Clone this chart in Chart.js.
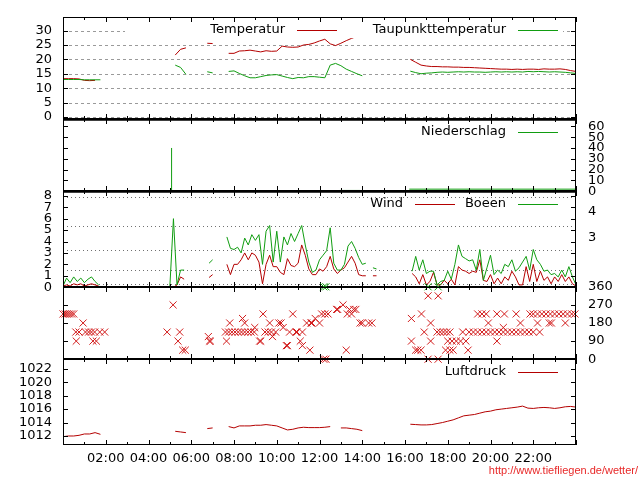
<!DOCTYPE html>
<html>
<head>
<meta charset="utf-8">
<script src="https://cdn.jsdelivr.net/npm/chart.js@4.4.1/dist/chart.umd.min.js"></script>
<style>
  body { margin: 0; background: #fff; }
  #wrap { position: relative; width: 640px; height: 480px; overflow: hidden; }
  canvas { position: absolute; left: 0; }
  #url { position: absolute; right: 2px; top: 464px; font: 11px "Liberation Sans", Arial, sans-serif; color: #e82828; }
</style>
</head>
<body>
<div id="wrap">
  <canvas id="cTemp" width="640" height="126" style="top:5px"></canvas>
  <canvas id="cRain" width="640" height="96" style="top:107px"></canvas>
  <canvas id="cWind" width="640" height="120" style="top:179px"></canvas>
  <canvas id="cDir" width="640" height="96" style="top:275px"></canvas>
  <canvas id="cPress" width="640" height="133" style="top:347px"></canvas>
  <div id="url">http://www.tiefliegen.de/wetter/</div>
</div>
<script>
// 15 minute values, 00:00 .. 24:00
const tempValues = [
  13.3, 13.3, 13.3, 13.2,   12.7, 12.6, 12.7, null,
  null, null, null, null,   null, null, null, null,   null, null, null, null,
  null, 21.5, 23.5, 24.0,   null, null, null, 25.6,   25.5, null, null, 22.1,
  22.1, 22.9, 23.0, 23.2,   22.9, 22.6, 23.0, 22.8,   22.9, 24.6, 24.3, 24.2,
  24.3, 25.0, 25.2, 25.7,   26.4, 27.0, 25.4, 24.8,   25.6, 26.5, 27.3, 28.0,
  28.5, null, null, null,   null, null, null, null,   null, 20.0, 19.0, 18.0,
  17.7, 17.5, 17.5, 17.4,   17.4, 17.3, 17.3, 17.2,   17.2, 17.1, 17.0, 16.9,
  16.8, 16.7, 16.6, 16.6,   16.5, 16.6, 16.5, 16.6,   16.6, 16.5, 16.7, 16.6,
  16.6, 16.7, 16.5, 16.1,   15.8
];
const dewValues = [
  13.0, 13.0, 13.0, 13.0,   12.9, 12.9, 12.9, 12.9,
  null, null, null, null,   null, null, null, null,   null, null, null, null,
  null, 18.0, 17.2, 14.8,   null, null, null, 15.7,   15.3, null, null, 15.8,
  16.0, 15.1, 14.3, 13.6,   13.6, 14.0, 14.4, 14.6,   14.7, 14.2, 13.7, 13.3,
  13.7, 13.6, 14.0, 14.0,   13.8, 13.6, 18.0, 18.6,   17.8, 16.6, 15.8, 15.0,
  14.3, null, null, null,   null, null, null, null,   null, 15.9, 15.4, 15.0,
  15.2, 15.3, 15.5, 15.6,   15.5, 15.6, 15.7, 15.6,   15.7, 15.6, 15.6, 15.5,
  15.6, 15.7, 15.6, 15.7,   15.6, 15.7, 15.6, 15.8,   15.7, 15.8, 15.7, 15.6,
  15.7, 15.6, 15.5, 15.3,   15.1
];
const pressureValues = [
  1011.9, 1012.0, 1012.0, 1012.1,   1012.3, 1012.3, 1012.5, 1012.25,
  null, null, null, null,   null, null, null, null,   null, null, null, null,
  null, 1012.7, 1012.6, 1012.5,   null, null, null, 1013.1,   1013.2, null, null, 1013.4,
  1013.2, 1013.5, 1013.5, 1013.5,   1013.6, 1013.6, 1013.7, 1013.6,   1013.5, 1013.2, 1012.9, 1013.0,
  1013.2, 1013.3, 1013.25, 1013.25,   1013.25, 1013.3, 1013.4, null,   1013.2, 1013.2, 1013.1, 1013.0,
  1012.8, null, null, null,   null, null, null, null,   null, 1013.75, 1013.7, 1013.65,
  1013.65, 1013.7, 1013.85, 1014.0,   1014.2, 1014.4, 1014.7, 1015.0,   1015.1, 1015.2, 1015.4, 1015.6,
  1015.7, 1015.9, 1016.0, 1016.1,   1016.2, 1016.3, 1016.45, 1016.15,   1016.1, 1016.2, 1016.25, 1016.2,
  1016.1, 1016.2, 1016.35, 1016.4,   1016.3
];

// 10 minute values, 00:00 .. 24:00
const windValues = [
  0.1, 0.2, 0.1, 0.3, 0.2, 0.3,   0.1, 0.2, 0.3, 0.2, 0.1, null,
  null, null, null, null, null, null,   null, null, null, null, null, null,   null, null, null, null, null, null,
  0.0, 0.0, 0.2, 0.9, 0.7, null,   null, null, null, null, null, 0.85,
  1.1, null, null, null, 2.0, 1.1,   2.0, 2.0, 2.4, 3.0, 2.4, 3.0,
  2.8, 2.2, 0.3, 2.0, 2.8, 1.8,   1.8, 1.3, 1.1, 2.5, 1.9, 1.8,
  2.1, 3.7, 2.8, 1.6, 1.1, 1.1,   1.6, 1.4, 1.8, 2.7, 1.6, 1.2,
  1.5, 1.7, 2.2, 2.7, 2.1, 1.1,   1.0, 1.0, null, 1.0, 1.0, null,
  null, null, null, null, null, null,   null, null, 1.2, 0.9, 0.3, 1.1,
  0.2, 0.5, 1.3, 0.2, 0.2, 0.6,   0.3, 0.7, 0.2, 1.8, 1.5, 1.4,
  1.2, 1.4, 1.3, 2.4, 0.6, 0.5,   1.1, 0.3, 0.8, 0.3, 0.9, 0.6,
  1.4, 0.9, 0.2, 0.2, 1.8, 0.5,   2.0, 0.5, 1.4, 0.6, 0.9, 0.3,
  0.9, 0.5, 1.1, 0.5, 0.9, 0.3,   0.1
];
const gustValues = [
  0.1, 0.8, 0.4, 0.9, 0.5, 0.8,   0.4, 0.7, 0.9, 0.5, 0.2, null,
  null, null, null, null, null, null,   null, null, null, null, null, null,   null, null, null, null, null, null,
  0.1, 6.0, 0.2, 1.5, 1.5, null,   null, null, null, null, null, 2.1,
  2.4, null, null, null, 4.4, 3.4,   3.3, 3.5, 3.0, 4.3, 3.7, 4.6,
  4.1, 4.6, 2.0, 4.9, 5.4, 2.2,   4.9, 2.2, 4.4, 3.7, 4.7, 4.0,
  4.7, 5.4, 3.7, 2.2, 1.3, 1.5,   2.4, 2.8, 3.2, 5.2, 2.1, 1.5,
  1.5, 2.0, 3.6, 4.0, 3.4, 2.6,   2.0, 2.1, null, 1.7, 1.6, null,
  null, null, null, null, null, null,   null, null, 1.4, 2.7, 1.5, 2.4,
  1.2, 1.4, 1.4, 0.2, 0.5, 0.6,   1.4, 0.7, 2.0, 3.7, 2.7, 2.5,
  2.3, 2.4, 1.5, 3.3, 0.6, 1.7,   2.8, 1.1, 1.5, 1.2, 2.0, 1.8,
  2.4, 1.4, 1.7, 2.2, 2.7, 1.5,   3.3, 2.4, 2.0, 1.4, 1.5, 1.1,
  1.2, 0.9, 1.5, 0.9, 1.8, 0.9,   0.2
];

const precipHours  = [5.08, 5.08, 5.1, 12.95, 13.9, 14.0, 16.2, 24.0];
const precipValues = [0, 40, null, 0.7, 0.7, null, 1.9, 1.9];

const dirHours = [
  0.0, 0.1, 0.2, 0.3, 0.4, 0.5, 0.6, 0.62, 0.75, 0.94, 1.05, 1.2, 1.33, 1.4, 1.48, 1.56, 1.72, 1.95,
  4.87, 5.15, 5.38, 5.46, 5.6, 5.72,
  6.8, 6.85, 6.9,
  7.6, 7.65, 7.75, 7.8, 7.9, 8.05, 8.2, 8.35, 8.4, 8.5, 8.5, 8.65, 8.8, 8.95, 8.97, 9.2, 9.25, 9.36,
  9.45, 9.6, 9.67, 9.75, 9.8, 9.95, 10.1, 10.2, 10.3, 10.45, 10.5, 10.6, 10.75, 10.9, 10.95, 11.1,
  11.2, 11.2, 11.4, 11.55, 11.6, 11.65, 11.8, 12.0, 12.1, 12.2, 12.25, 12.3, 12.4,
  12.8, 12.85, 13.1, 13.25, 13.3, 13.4, 13.5, 13.6, 13.7, 13.9, 14.0, 14.3, 14.45,
  16.3, 16.3, 16.5, 16.6, 16.75, 16.77, 16.9, 17.08, 17.08, 17.2, 17.2, 17.5, 17.55, 17.55,
  17.65, 17.8, 17.9, 17.95, 18.0, 18.1, 18.1, 18.2, 18.25, 18.4, 18.6, 18.7, 18.85, 18.95,
  19.0, 19.2, 19.4, 19.4, 19.6, 19.6, 19.8, 19.8, 19.9, 20.0, 20.2, 20.3, 20.3, 20.4, 20.6,
  20.6, 20.65, 20.8, 21.0, 21.2, 21.2, 21.4, 21.4, 21.6, 21.8, 21.85, 22.0, 22.0, 22.2, 22.2,
  22.3, 22.4, 22.6, 22.75, 22.8, 22.85, 23.0, 23.2, 23.4, 23.5, 23.6, 23.8, 23.95
];
const dirDegrees = [
  225, 225, 225, 225, 225, 225, 135, 90, 135, 180, 135, 135, 135, 90, 135, 90, 135, 135,
  135, 270, 90, 135, 45, 45,
  112.5, 90, 90,
  135, 90, 135, 180, 135, 135, 135, 135, 202.5, 135, 180, 135, 135, 135, 157.5, 90, 90, 225,
  135, 135, 180, 135, 112.5, 135, 180, 180, 157.5, 67.5, 67.5, 135, 225, 135, 135, 90,
  135, 67.5, 180, 45, 180, 180, 202.5, 180, 225, 0, 225, 0, 225,
  247.5, 247.5, 270, 45, 225, 247.5, 225, 247.5, 247.5, 180, 180, 180, 180,
  202.5, 90, 45, 45, 45, 225, 135, 315, 0, 180, 90, 135, 315, 0,
  135, 135, 45, 135, 90, 135, 45, 90, 45, 90, 90, 135, 90, 45,
  135, 135, 135, 225, 135, 225, 135, 225, 180, 135, 135, 225, 90, 135, 135,
  157.5, 225, 135, 135, 135, 225, 135, 180, 135, 135, 225, 135, 225, 225, 180,
  135, 225, 225, 180, 225, 180, 225, 225, 225, 180, 225, 225, 225
];
const calmHours = [12.2, 12.3, 17.08, 17.55];
const calmDegrees = [360, 360, 360, 360];

const beaufortLimits = [0.3, 1.5, 3.3, 5.4, 7.9];
const beaufortLabelAt = [4.35, 6.65];
const beaufortLabels = ['3', '4'];

const RED = '#b40000';
const GREEN = '#119d11';
const XRED = '#d21c1c';

Chart.defaults.font = { family: '"DejaVu Sans", sans-serif', size: 13 };
Chart.defaults.color = '#000';

const slots = (values, step) => values.map((v, i) => ({ x: i * step, y: v }));
const pairs = (hours, values) => hours.map((h, i) => ({ x: h, y: values[i] }));

// gnuplot look: frame, inward ticks, grid, key
const frame = {
  id: 'frame',
  beforeDatasetsDraw(chart, args, o) {
    if (!o.grid) return;
    const { ctx, chartArea: a } = chart;
    const s = chart.scales[o.grid.scale];
    const values = o.grid.values || s.ticks.map(t => t.value);
    ctx.save();
    ctx.strokeStyle = o.grid.color;
    ctx.lineWidth = 1;
    ctx.setLineDash(o.grid.dash);
    values.forEach(v => {
      const y = Math.round(s.getPixelForValue(v)) + 0.5;
      ctx.beginPath(); ctx.moveTo(a.left, y); ctx.lineTo(a.right, y); ctx.stroke();
    });
    ctx.restore();
  },
  afterDatasetsDraw(chart, args, o) {
    const { ctx, chartArea: a } = chart;
    const seg = (x1, y1, x2, y2) => { ctx.beginPath(); ctx.moveTo(x1, y1); ctx.lineTo(x2, y2); ctx.stroke(); };
    ctx.save();
    if (o.key) {
      const ky = Math.round(a.top) + 13;
      if (o.key.box) {
        ctx.fillStyle = '#fff';
        ctx.fillRect(o.key.box[0], ky - 8, o.key.box[1] - o.key.box[0], 16);
      }
      ctx.font = '13px "DejaVu Sans"';
      ctx.textAlign = 'right';
      ctx.textBaseline = 'middle';
      o.key.items.forEach(it => {
        const ds = chart.data.datasets[it.dataset];
        ctx.fillStyle = '#000';
        ctx.fillText(ds.label, it.sampleX - 12, ky);
        ctx.strokeStyle = ds.borderColor;
        ctx.lineWidth = 1;
        seg(it.sampleX, ky + 0.5, it.sampleX + 40, ky + 0.5);
      });
    }
    ctx.strokeStyle = '#000';
    ctx.lineWidth = 1;
    const L = Math.round(a.left), T = Math.round(a.top), R = Math.round(a.right), B = Math.round(a.bottom);
    ctx.strokeRect(L + 0.5, T + 0.5, R - L - 1, B - T - 1);
    if (o.thickTop) {
      ctx.lineWidth = 2.5;
      seg(L, T + 0.5, R, T + 0.5);
      ctx.lineWidth = 1;
    }
    const xs = chart.scales.x;
    for (let h = xs.min; h <= xs.max; h++) {
      const x = Math.round(xs.getPixelForValue(h)) + 0.5;
      const len = h % 2 ? 3 : 5;
      seg(x, T, x, T + len);
      seg(x, B, x, B - len);
    }
    const ys = chart.scales[o.tickScale];
    ys.ticks.forEach(t => {
      const y = Math.round(ys.getPixelForValue(t.value)) + 0.5;
      seg(L, y, L + 5, y);
      seg(R, y, R - 5, y);
    });
    ctx.restore();
  }
};

function hiddenX() {
  return { type: 'linear', min: 0, max: 24, display: false };
}
function valueAxis(position, min, max, step) {
  return {
    position, min, max,
    grid: { display: false, drawTicks: false },
    border: { display: false },
    ticks: { stepSize: step, includeBounds: false, autoSkip: false,
             padding: position === 'left' ? 11 : 12, callback: v => String(v) },
    afterFit: s => { s.width = position === 'left' ? 63 : 64; }
  };
}
function lineSet(label, data, color, order) {
  return { label, data, borderColor: color, backgroundColor: color, borderWidth: 1,
           pointRadius: 0, tension: 0, spanGaps: false, order: order || 0 };
}
function makeChart(id, datasets, scales, padding, frameOpts) {
  return new Chart(document.getElementById(id), {
    type: 'line',
    data: { datasets },
    options: {
      responsive: false, maintainAspectRatio: false, animation: false, devicePixelRatio: 1,
      layout: { padding },
      scales,
      plugins: { legend: { display: false }, tooltip: { enabled: false }, frame: frameOpts }
    },
    plugins: [frame]
  });
}
// size the canvas so that the plot area lands on [top, bottom] of the page
function place(chart, top, bottom) {
  for (let k = 0; k < 2; k++) {
    const a = chart.chartArea;
    const h = Math.round((bottom - top) + a.top + (chart.height - a.bottom));
    chart.resize(640, h);
  }
  chart.canvas.style.top = (top - Math.round(chart.chartArea.top)) + 'px';
}

// Temperatur
const tempChart = makeChart('cTemp', [
  lineSet('Temperatur', slots(tempValues, 0.25), RED, 1),
  lineSet('Taupunkttemperatur', slots(dewValues, 0.25), GREEN, 0)
], { x: hiddenX(), y: valueAxis('left', -0.8, 34.8, 5) },
{ top: 12, bottom: 12, left: 0, right: 64 },
{ tickScale: 'y', grid: { scale: 'y', color: '#9a9a9a', dash: [3, 3] },
  key: { box: [125, 563], items: [{ dataset: 0, sampleX: 297 }, { dataset: 1, sampleX: 518 }] } });
place(tempChart, 17, 119);

// Niederschlag
const rainChart = makeChart('cRain', [
  lineSet('Niederschlag', pairs(precipHours, precipValues), GREEN)
], { x: hiddenX(), y: valueAxis('right', 0, 67, 10) },
{ top: 12, bottom: 12, left: 63, right: 0 },
{ tickScale: 'y', thickTop: true, key: { items: [{ dataset: 0, sampleX: 518 }] } });
place(rainChart, 119, 191);

// Wind / Boeen
const windChart = makeChart('cWind', [
  lineSet('Wind', slots(windValues, 1 / 6), RED, 1),
  lineSet('Boeen', slots(gustValues, 1 / 6), GREEN, 0)
], {
  x: hiddenX(),
  y: valueAxis('left', 0, 8.44, 1),
  y2: {
    position: 'right', min: 0, max: 8.44,
    grid: { display: false, drawTicks: false }, border: { display: false },
    afterBuildTicks: s => { s.ticks = beaufortLabelAt.map(v => ({ value: v })); },
    ticks: { autoSkip: false, padding: 12, callback: (v, i) => beaufortLabels[i] },
    afterFit: s => { s.width = 64; }
  }
}, { top: 12, bottom: 12, left: 0, right: 0 },
{ tickScale: 'y', thickTop: true, grid: { scale: 'y', values: beaufortLimits, color: '#707070', dash: [1, 3] },
  key: { items: [{ dataset: 0, sampleX: 415 }, { dataset: 1, sampleX: 518 }] } });
place(windChart, 191, 287);

// Windrichtung
const dirSet = (data, color) => ({
  data, showLine: false, pointStyle: 'crossRot', pointRadius: 5, pointBorderWidth: 1,
  pointBorderColor: color, borderColor: color, clip: false
});
const dirChart = makeChart('cDir', [
  dirSet(pairs(dirHours, dirDegrees), XRED),
  dirSet(pairs(calmHours, calmDegrees), GREEN)
], { x: hiddenX(), y: valueAxis('right', 0, 360, 90) },
{ top: 12, bottom: 12, left: 63, right: 0 },
{ tickScale: 'y' });
place(dirChart, 287, 359);

// Luftdruck
const pressChart = makeChart('cPress', [
  lineSet('Luftdruck', slots(pressureValues, 0.25), RED)
], {
  x: {
    type: 'linear', min: 0, max: 24,
    grid: { display: false, drawTicks: false }, border: { display: false },
    ticks: { stepSize: 2, autoSkip: false, maxRotation: 0, padding: 6,
             callback: v => (v > 0 && v < 24) ? String(v).padStart(2, '0') + ':00' : '' },
    afterFit: s => { s.height = 35; }
  },
  y: valueAxis('left', 1010.66, 1023.49, 2)
}, { top: 12, bottom: 0, left: 0, right: 64 },
{ tickScale: 'y', key: { items: [{ dataset: 0, sampleX: 518 }] } });
place(pressChart, 359, 445);
</script>
</body>
</html>
